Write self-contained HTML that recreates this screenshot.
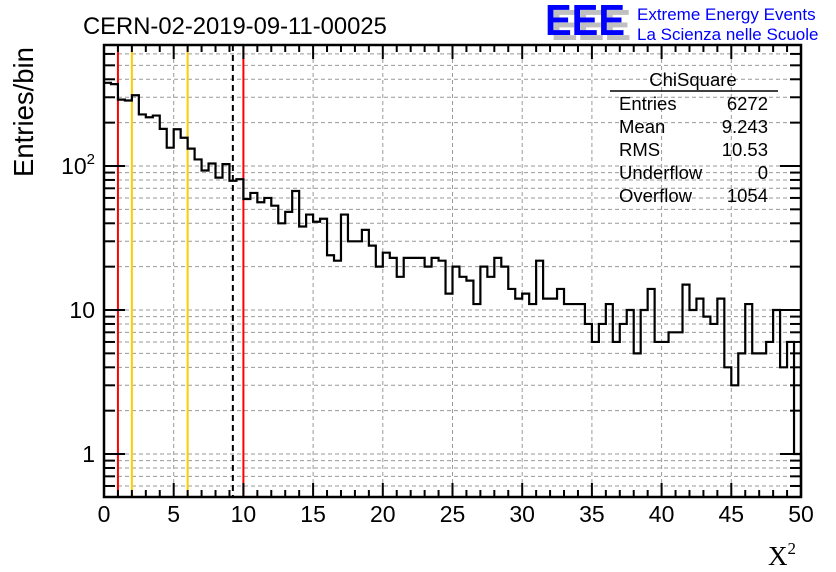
<!DOCTYPE html>
<html><head><meta charset="utf-8"><style>
body{margin:0;background:#fff;}
svg{display:block;font-family:"Liberation Sans",sans-serif;}
</style></head><body>
<svg id="c" width="836" height="572" viewBox="0 0 836 572">
<rect width="836" height="572" fill="#fff"/>
<g id="grid"></g>
<g id="lines"></g>
<path id="hist" fill="none" stroke="#000" stroke-width="2.2"/>
<g id="axes"></g>
<text x="83" y="34" font-size="23.8">CERN-02-2019-09-11-00025</text>
<g>
<text x="551" y="40" font-size="44" font-weight="bold" fill="#c0c0c0" textLength="80" lengthAdjust="spacingAndGlyphs">EEE</text>
<text x="545" y="35" font-size="44" font-weight="bold" fill="#0000ff" textLength="80" lengthAdjust="spacingAndGlyphs">EEE</text>
<text x="637" y="20" font-size="17" fill="#0000ff">Extreme Energy Events</text>
<text x="637" y="40" font-size="17" fill="#0000ff">La Scienza nelle Scuole</text>
</g>
<g font-size="18.5">
<text x="693" y="86" text-anchor="middle">ChiSquare</text>
<line x1="610" y1="91" x2="778" y2="91" stroke="#000" stroke-width="1.5"/>
<text x="619" y="110">Entries</text><text x="768" y="110" text-anchor="end">6272</text>
<text x="619" y="133">Mean</text><text x="768" y="133" text-anchor="end">9.243</text>
<text x="619" y="156">RMS</text><text x="768" y="156" text-anchor="end">10.53</text>
<text x="619" y="179">Underflow</text><text x="768" y="179" text-anchor="end">0</text>
<text x="619" y="202">Overflow</text><text x="768" y="202" text-anchor="end">1054</text>
</g>
<text transform="translate(33,112) rotate(-90)" text-anchor="middle" font-size="27.5">Entries/bin</text>
<text x="768" y="565" font-size="27" font-family="Liberation Serif,serif">X<tspan font-size="17" dy="-11">2</tspan></text>
</svg>
<script>
const counts=[378,370,289,285,310,228,218,224,181,134,180,157,132,111,93,104,83,103,79,81,
59,65,56,60,53,40,48,67,38,46,41,43,24,22,46,30,30,36,28,20,
25,23,17,23,23,23,20,23,22,13,20,17,16,11,20,17,23,20,14,12,
13,11,22,12,12,14,11,11,11,8,6,8,11,6,8,10,5,10,14,6,
6,7,7,15,10,12,9,8,12,4,3,5,11,5,5,6,10,4,6,1];
const xTicks=[0,5,10,15,20,25,30,35,40,45,50];
const yTickValues=[1,10,100];
const yTickBase=["1","10","10"];
const yTickExp=["","","2"];
const markerRed=[1,10];
const markerOrange=[2,6];
const meanLine=[9.243];
const NS="http://www.w3.org/2000/svg";
const L=104,R=801,T=45,B=497,XMIN=0,XMAX=50,YMIN=0.503,YMAX=692;
const sx=v=>L+(v-XMIN)/(XMAX-XMIN)*(R-L);
const sy=v=>B-(Math.log10(v)-Math.log10(YMIN))/(Math.log10(YMAX)-Math.log10(YMIN))*(B-T);
function mk(tag,attrs,parent){const e=document.createElementNS(NS,tag);for(const k in attrs)e.setAttribute(k,attrs[k]);parent.appendChild(e);return e;}
const grid=document.getElementById('grid'),axes=document.getElementById('axes'),lines=document.getElementById('lines');
const ylog=[];for(let d=-1;d<=2;d++)for(let m=1;m<10;m++){const v=m*Math.pow(10,d);if(v>=YMIN&&v<=YMAX)ylog.push({v,major:m===1});}
ylog.forEach(t=>{const y=sy(t.v);
 const g=mk('line',{x1:L,x2:R,y1:y,y2:y,stroke:'#999','stroke-dasharray':'4,3','stroke-width':1},grid);
 
 const len=t.major?21:11;
 const a=mk('line',{x1:L,x2:L+len,y1:y,y2:y,stroke:'#000','stroke-width':2},axes);
 
 const b=mk('line',{x1:R-len,x2:R,y1:y,y2:y,stroke:'#000','stroke-width':2},axes);
 
});
for(let v=1;v<50;v++){const x=sx(v);const major=v%5===0;
 if(major){const g=mk('line',{x1:x,x2:x,y1:T,y2:B,stroke:'#999','stroke-dasharray':'4,3','stroke-width':1},grid);
  }
 const len=major?14:7;
 const a=mk('line',{x1:x,x2:x,y1:B,y2:B-len,stroke:'#000','stroke-width':2},axes);
 
 const b=mk('line',{x1:x,x2:x,y1:T,y2:T+len,stroke:'#000','stroke-width':2},axes);
 
}
xTicks.forEach(v=>{const t=mk('text',{x:sx(v),y:522,'text-anchor':'middle','font-size':23},axes);t.textContent=v;
 });
yTickValues.forEach((v,i)=>{const t=mk('text',{x:95,y:sy(v)+8,'text-anchor':'end','font-size':23},axes);
 t.textContent=yTickBase[i];
 if(yTickExp[i]){const s=mk('tspan',{'font-size':15,dy:-10},t);s.textContent=yTickExp[i];}
 });
const fr=mk('rect',{x:L,y:T,width:R-L,height:B-T,fill:'none',stroke:'#000','stroke-width':2.5},axes);

function vline(v,color,dash,name){const l=mk('line',{x1:sx(v),x2:sx(v),y1:T,y2:B,stroke:color,'stroke-width':2},lines);
 if(dash)l.setAttribute('stroke-dasharray',dash);
 }
markerRed.forEach(v=>vline(v,'#ff0000',null,'red-cut-line'));
markerOrange.forEach(v=>vline(v,'#ffcc00',null,'orange-cut-line'));
meanLine.forEach(v=>vline(v,'#000',"6,4",'mean-line'));
const bw=(XMAX-XMIN)/counts.length;let d='';
counts.forEach((c,i)=>{const x0=sx(XMIN+i*bw),x1=sx(XMIN+(i+1)*bw),y=sy(Math.max(c,YMIN));
 d+=(i===0?'M':'L')+x0+','+y+'L'+x1+','+y;});
d+='L'+sx(XMAX)+','+sy(YMIN);
document.getElementById('hist').setAttribute('d',d);
</script>
</body></html>
